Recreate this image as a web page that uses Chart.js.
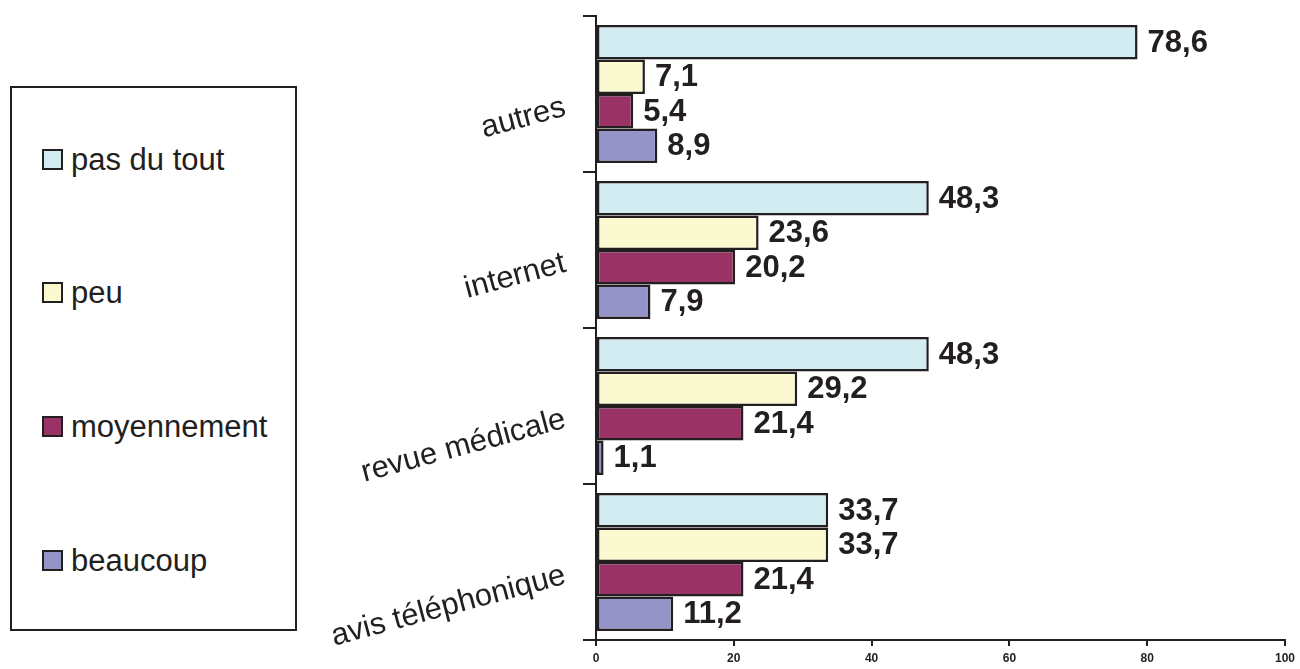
<!DOCTYPE html>
<html>
<head>
<meta charset="utf-8">
<script src="https://cdn.jsdelivr.net/npm/chart.js@4"></script>
<style>
  body { margin: 0; background: #fff; }
  #wrap { position: relative; width: 1300px; height: 669px; }
  #legend {
    position: absolute; left: 10px; top: 86px; width: 283px; height: 541px;
    border: 2px solid #231f20; background: #fff;
    font-family: Arial, "Liberation Sans", sans-serif; font-size: 31px; color: #231f20;
  }
  .item { position: absolute; left: 30px; height: 34px; line-height: 34px; white-space: nowrap; }
  .swatch { display: inline-block; width: 17px; height: 17px; border: 2px solid #231f20; vertical-align: middle; margin-right: 8px; position: relative; top: -2px; }
</style>
</head>
<body>
<div id="wrap">
  <canvas id="myChart" width="1300" height="669"></canvas>
  <div id="legend"></div>
</div>
<script>
// categories, top to bottom
const categories = ["autres", "internet", "revue médicale", "avis téléphonique"];
const seriesNames = ["pas du tout", "peu", "moyennement", "beaucoup"];
const pasDuTout = [78.6, 48.3, 48.3, 33.7];
const peu = [7.1, 23.6, 29.2, 33.7];
const moyennement = [5.4, 20.2, 21.4, 21.4];
const beaucoup = [8.9, 7.9, 1.1, 11.2];
const xTicks = [0, 20, 40, 60, 80, 100];
const colors = ["#d3ecf2", "#fbf9d0", "#993366", "#9494c8"];

const dark = "#231f20";
const allSeries = [pasDuTout, peu, moyennement, beaucoup];

// legend in a framed box on the left
const legend = document.getElementById("legend");
const legendTops = [55, 188, 322, 456];
seriesNames.forEach((name, i) => {
  const item = document.createElement("div");
  item.className = "item";
  item.style.top = legendTops[i] + "px";
  const sw = document.createElement("span");
  sw.className = "swatch";
  sw.style.background = colors[i];
  item.appendChild(sw);
  item.appendChild(document.createTextNode(name));
  legend.appendChild(item);
});

// value labels at the end of each bar
const valueLabels = {
  id: "valueLabels",
  afterDatasetsDraw(chart) {
    const ctx = chart.ctx;
    ctx.save();
    ctx.font = "bold 31px Arial, 'Liberation Sans', sans-serif";
    ctx.fillStyle = dark;
    ctx.textAlign = "left";
    ctx.textBaseline = "middle";
    chart.data.datasets.forEach((ds, i) => {
      const meta = chart.getDatasetMeta(i);
      meta.data.forEach((bar, j) => {
        const txt = ds.data[j].toFixed(1).replace(".", ",");
        ctx.fillText(txt, bar.x + 10, bar.y + 1);
      });
    });
    ctx.restore();
  },
};

const ctx = document.getElementById("myChart");
new Chart(ctx, {
  type: "bar",
  data: {
    labels: categories,
    datasets: seriesNames.map((name, i) => ({
      label: name,
      data: allSeries[i],
      backgroundColor: colors[i],
      borderColor: dark,
      borderWidth: 2.5,
      borderSkipped: false,
      barPercentage: 1,
      categoryPercentage: 0.885,
    })),
  },
  options: {
    indexAxis: "y",
    responsive: false,
    devicePixelRatio: 1,
    animation: false,
    layout: { padding: { top: 16, right: 14, left: 0, bottom: 0 } },
    plugins: {
      legend: { display: false },
      tooltip: { enabled: false },
    },
    scales: {
      x: {
        min: 0,
        max: 100,
        afterBuildTicks: (scale) => {
          scale.ticks = xTicks.map((v) => ({ value: v }));
        },
        afterFit: (scale) => {
          scale.height = 29;
        },
        grid: {
          drawOnChartArea: false,
          drawTicks: true,
          tickLength: 6,
          color: dark,
          lineWidth: 2,
        },
        border: { display: true, color: dark, width: 2 },
        ticks: {
          color: dark,
          padding: 5,
          font: { family: "Arial, 'Liberation Sans', sans-serif", size: 12, weight: "bold" },
        },
      },
      y: {
        afterFit: (scale) => {
          scale.width = 596;
          scale.paddingTop = 0;
          scale.paddingBottom = 0;
        },
        grid: {
          drawOnChartArea: false,
          drawTicks: true,
          tickLength: 13,
          color: dark,
          lineWidth: 2,
        },
        border: { display: true, color: dark, width: 2 },
        ticks: {
          color: dark,
          minRotation: 15,
          maxRotation: 15,
          padding: 18,
          labelOffset: 13,
          font: { family: "Arial, 'Liberation Sans', sans-serif", size: 31 },
        },
      },
    },
  },
  plugins: [valueLabels],
});
</script>
</body>
</html>
